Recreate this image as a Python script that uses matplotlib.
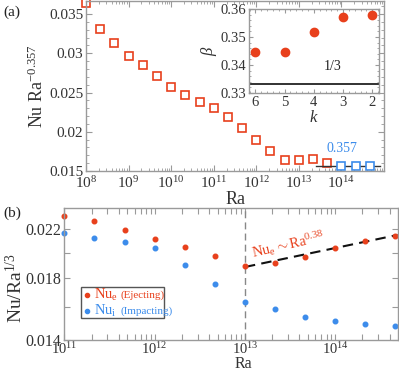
import numpy as np
import matplotlib
matplotlib.use("Agg")
import matplotlib.pyplot as plt
from matplotlib.ticker import FixedLocator, FixedFormatter, LogLocator, NullFormatter, MultipleLocator
from matplotlib.patches import Rectangle

plt.rcParams['font.family'] = 'serif'
plt.rcParams['font.serif'] = ['Liberation Serif', 'DejaVu Serif']
plt.rcParams['mathtext.fontset'] = 'custom'
plt.rcParams['mathtext.rm'] = 'Liberation Serif'
plt.rcParams['mathtext.it'] = 'Liberation Serif:italic'
plt.rcParams['mathtext.bf'] = 'Liberation Serif:bold'

RED = '#E8401C'
BLUE = '#3C8CEB'
FRAME = '#9a9a9a'
TXT = '#333333'

# ---- panel (a): compensated Nu vs Ra
ra_a_red = [1e8, 2.15e8, 4.64e8, 1e9, 2.15e9, 4.64e9, 1e10, 2.15e10, 4.64e10,
            1e11, 2.15e11, 4.64e11, 1e12, 2.15e12, 4.64e12, 1e13, 2.15e13, 4.64e13]
nu_a_red = [0.0364, 0.0331, 0.03135, 0.02962, 0.02851, 0.02707, 0.02567, 0.0247, 0.02377,
            0.0230, 0.02193, 0.0205, 0.01897, 0.0176, 0.01643, 0.01643, 0.01659, 0.0160]
ra_a_blue = [1e14, 2.15e14, 4.64e14]
nu_a_blue = [0.01568, 0.01568, 0.01568]
ref_ra = [2.5e13, 8e14]
ref_nu = [0.01568, 0.01568]

# ---- inset: local exponent beta vs k
k_vals = [6, 5, 4, 3, 2]
beta_vals = [0.3448, 0.3448, 0.3519, 0.357, 0.358]
beta_ref = 1 / 3

# ---- panel (b)
ra_b = [1e11, 2.15e11, 4.64e11, 1e12, 2.15e12, 4.64e12, 1e13, 2.15e13, 4.64e13,
        1e14, 2.15e14, 4.64e14]
nu_eject = [0.02323, 0.02277, 0.02194, 0.02112, 0.02049, 0.01972, 0.01890, 0.01919,
            0.01967, 0.02035, 0.02098, 0.02144]
nu_impact = [0.02167, 0.02126, 0.02091, 0.02040, 0.01901, 0.01759, 0.01634, 0.01585,
             0.01537, 0.01508, 0.01489, 0.01479]
fit_ra = [1e13, 4.9e14]
fit_nu = [0.01885, 0.02150]
ra_split = 1e13


def style_frame(ax):
    for s in ax.spines.values():
        s.set_color(FRAME)
        s.set_linewidth(1.0)
    ax.tick_params(which='both', direction='in', top=True, right=True,
                   color=FRAME, labelcolor=TXT)
    ax.tick_params(which='major', length=4, width=0.8)
    ax.tick_params(which='minor', length=2, width=0.6)


fig = plt.figure(figsize=(3.99, 3.72), dpi=100)

# panel (a)
axa = fig.add_axes([0.2155, 0.5403, 0.747, 0.457])
axa.plot(ra_a_red, nu_a_red, 's', ms=5.5, mfc='white', mec=RED, mew=1.2, clip_on=False)
axa.plot(ref_ra, ref_nu, '-', color='#333333', lw=1.0)
axa.plot(ra_a_blue, nu_a_blue, 's', ms=5.5, mfc='white', mec=BLUE, mew=1.2)
axa.set_xscale('log')
axa.set_xlim(1e8, 1e15)
axa.set_ylim(0.015, 0.03666)
axa.xaxis.set_major_locator(FixedLocator([10.0 ** n for n in range(8, 15)]))
axa.xaxis.set_major_formatter(FixedFormatter([r'$10^{%d}$' % n for n in range(8, 15)]))
axa.xaxis.set_minor_locator(LogLocator(base=10, subs=np.arange(2, 10), numticks=20))
axa.xaxis.set_minor_formatter(NullFormatter())
axa.yaxis.set_major_locator(FixedLocator([0.015, 0.02, 0.025, 0.03, 0.035]))
axa.yaxis.set_major_formatter(FixedFormatter(['0.015', '0.02', '0.025', '0.03', '0.035']))
axa.yaxis.set_minor_locator(MultipleLocator(0.001))
style_frame(axa)
axa.tick_params(labelsize=11, pad=2)
axa.tick_params(axis='x', pad=3)
axa.text(0.86, 0.135, '0.357', color=BLUE, fontsize=10, transform=axa.transAxes,
         ha='center', va='center')
fig.text(236 / 399, 1 - 199 / 372, 'Ra', fontsize=13, color=TXT, ha='center', va='center')
fig.text(37 / 399, 1 - 86 / 372, r'Nu Ra$^{-0.357}$', fontsize=13, color=TXT,
         rotation=90, ha='center', va='center')
fig.text(0.008, 1 - 12 / 372, '(a)', fontsize=11, color='#222222', ha='left', va='center')

# inset
axi = fig.add_axes([0.624, 0.75, 0.326, 0.2258])
axi.set_facecolor('white')
axi.plot(k_vals, beta_vals, 'o', ms=6, color=RED, mec=RED)
axi.axhline(beta_ref, color='#222222', lw=1.3)
axi.set_xlim(6.22, 1.77)
axi.set_ylim(0.33, 0.36)
axi.set_xticks(k_vals)
axi.set_yticks([0.33, 0.34, 0.35, 0.36])
axi.set_yticklabels(['0.33', '0.34', '0.35', '0.36'])
axi.yaxis.set_minor_locator(MultipleLocator(0.002))
axi.xaxis.set_minor_locator(MultipleLocator(0.2))
style_frame(axi)
axi.tick_params(labelsize=10.5, pad=2)
axi.tick_params(which='major', length=3)
axi.tick_params(which='minor', length=1.5)
axi.text(3.35, 0.3395, '1/3', fontsize=10, color='#222222', ha='center', va='center')
axi.set_xlabel(r'$k$', fontsize=12, color=TXT, labelpad=1)
axi.set_ylabel(r'$\beta$', fontsize=12, color=TXT, labelpad=1)

# panel (b)
axb = fig.add_axes([0.1612, 1 - 339.5 / 372, 0.8363, (339.5 - 207.7) / 372])
axb.axvline(ra_split, color='#888888', lw=1.0, ls=(0, (5, 3)))
axb.plot(fit_ra, fit_nu, color='#111111', lw=1.5, ls=(0, (5, 3)))
axb.plot(ra_b, nu_eject, 'o', ms=3.3, color=RED, clip_on=False)
axb.plot(ra_b, nu_impact, 'o', ms=3.3, color=BLUE, clip_on=False)
axb.set_xscale('log')
axb.set_yscale('log')
axb.set_xlim(1e11, 4.95e14)
axb.set_ylim(0.014, 0.02404)
axb.xaxis.set_major_locator(FixedLocator([1e11, 1e12, 1e13, 1e14]))
axb.xaxis.set_major_formatter(FixedFormatter([r'$10^{11}$', r'$10^{12}$', r'$10^{13}$', r'$10^{14}$']))
axb.xaxis.set_minor_locator(LogLocator(base=10, subs=np.arange(2, 10), numticks=20))
axb.xaxis.set_minor_formatter(NullFormatter())
axb.yaxis.set_major_locator(FixedLocator([0.014, 0.018, 0.022]))
axb.yaxis.set_major_formatter(FixedFormatter(['0.014', '0.018', '0.022']))
axb.yaxis.set_minor_locator(FixedLocator([0.016, 0.020]))
axb.yaxis.set_minor_formatter(NullFormatter())
style_frame(axb)
axb.tick_params(labelsize=11.5, pad=2.5)
axb.tick_params(axis='x', labelsize=10.5, pad=1.5)
axb.tick_params(which='minor', length=4, width=0.8)
for lab in axb.get_yticklabels():
    lab.set_verticalalignment('center_baseline')
axb.text(0.67, 0.72, r'$\mathrm{Nu_e}\sim\mathrm{Ra}^{0.38}$', color=RED, fontsize=10.5,
         rotation=13, transform=axb.transAxes, ha='center', va='center')

# legend box (two font sizes per entry)
lx0, ly0 = (80.7 - 64.3) / 333.7, (339.5 - 318.3) / 131.8
lw_, lh_ = (164 - 80.7) / 333.7, (318.3 - 286.7) / 131.8
axb.add_patch(Rectangle((lx0, ly0), lw_, lh_, transform=axb.transAxes, fill=True,
                        facecolor='white', edgecolor='#555555', lw=1.0, zorder=5))
for yy, col, main, sub in [(295, RED, r'$\mathrm{Nu_e}$', '(Ejecting)'),
                           (311, BLUE, r'$\mathrm{Nu_i}$', '(Impacting)')]:
    ya = (339.5 - yy) / 131.8
    axb.plot([(87.3 - 64.3) / 333.7], [ya], 'o', ms=3, color=col,
             transform=axb.transAxes, zorder=6, clip_on=False)
    axb.text((93.5 - 64.3) / 333.7, ya, main, color=col, fontsize=10.5,
             transform=axb.transAxes, ha='left', va='center', zorder=6)
    axb.text((120 - 64.3) / 333.7, ya, sub, color=col, fontsize=8,
             transform=axb.transAxes, ha='left', va='center', zorder=6)

fig.text(243 / 399, 0.5 / 372, 'Ra', fontsize=11.5, color=TXT, ha='center', va='bottom')
fig.text(15 / 399, 1 - 288 / 372, r'Nu/Ra$^{1/3}$', fontsize=14, color=TXT,
         rotation=90, ha='center', va='center')
fig.text(0.008, 1 - 213 / 372, '(b)', fontsize=11, color='#222222', ha='left', va='center')

fig.savefig('out.png', dpi=100)
